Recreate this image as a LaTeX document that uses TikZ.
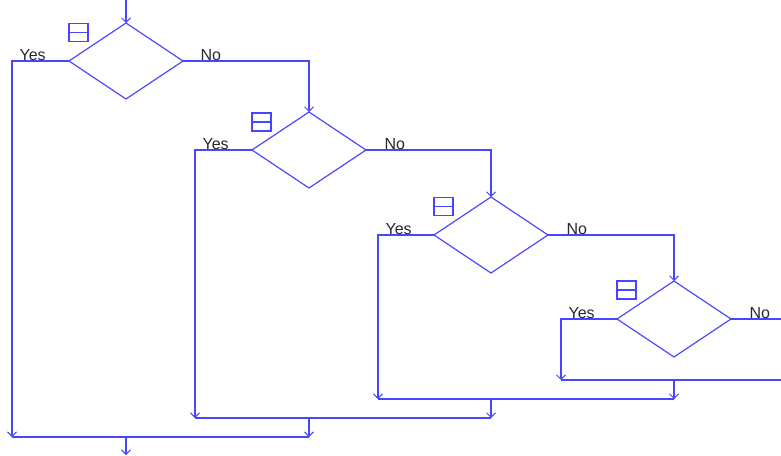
\documentclass[tikz,border=0pt]{standalone}
\usepackage{fontspec}
\setmainfont{Liberation Sans}
\usetikzlibrary{shapes.geometric,arrows.meta}
\definecolor{flowblue}{RGB}{70,70,255}
\definecolor{labelgray}{RGB}{40,40,40}
\begin{document}
\begin{tikzpicture}[x=1pt,y=-1pt,
  line width=1.2pt,
  conn/.style={draw=flowblue},
  arr/.style={conn,-{Straight Barb[length=4.5pt,width=9pt,line width=1pt]}},
  decision/.style={diamond,draw=flowblue,aspect=1.5,minimum width=114pt,minimum height=76pt,inner sep=0pt,outer sep=0pt},
  iconbox/.style={rectangle,draw=flowblue,minimum width=19pt,minimum height=18pt,inner sep=0pt,outer sep=0pt,
    path picture={\draw[flowblue,line width=1.2pt] (path picture bounding box.west) -- (path picture bounding box.east);}},
  lbl/.style={anchor=base west,inner sep=0pt,text=labelgray,font=\fontsize{16}{19}\selectfont}]
\useasboundingbox (0,0) rectangle (781,455);

% decisions
\node[decision] (d1) at (126,61) {};
\node[decision] (d2) at (309,150) {};
\node[decision] (d3) at (491,235) {};
\node[decision] (d4) at (674,319) {};

% icons
\node[iconbox] (b1) at (78.5,32.5) {};
\node[iconbox] (b2) at (261.5,122) {};
\node[iconbox] (b3) at (443.5,206.5) {};
\node[iconbox] (b4) at (626.5,290) {};

% coordinates
\coordinate (top) at (126,0);
\coordinate (c1) at (12,61);
\coordinate (c2) at (195,150);
\coordinate (c3) at (378,235);
\coordinate (c4) at (561,319);
\coordinate (m4L) at (561,380);
\coordinate (m4R) at (781,380);
\coordinate (m4M) at (674,380);
\coordinate (out4) at (781,319);
\coordinate (m3L) at (378,399);
\coordinate (m3R) at (674,399);
\coordinate (m3M) at (491,399);
\coordinate (m2L) at (195,418);
\coordinate (m2R) at (491,418);
\coordinate (m2M) at (309,418);
\coordinate (m1L) at (12,437);
\coordinate (m1R) at (309,437);
\coordinate (m1M) at (126,437);
\coordinate (bottom) at (126,455);

% labels
\node[lbl] (y1) at (19,60) {Yes};
\node[lbl] (n1) at (200,60) {No};
\node[lbl] (y2) at (202,149) {Yes};
\node[lbl] (n2) at (384,149) {No};
\node[lbl] (y3) at (385,234) {Yes};
\node[lbl] (n3) at (566,234) {No};
\node[lbl] (y4) at (568,318) {Yes};
\node[lbl] (n4) at (749,318) {No};

% connectors
\draw[arr] (top) -- (d1.north);
\draw[arr] (d1.west) -- (c1) -- (m1L);
\draw[arr] (d1.east) -| (d2.north);
\draw[arr] (d2.west) -- (c2) -- (m2L);
\draw[arr] (d2.east) -| (d3.north);
\draw[arr] (d3.west) -- (c3) -- (m3L);
\draw[arr] (d3.east) -| (d4.north);
\draw[arr] (d4.west) -- (c4) -- (m4L);
\draw[conn] (d4.east) -- (out4);

\draw[conn] (m4L) -- (m4R);
\draw[arr] (m4M) -- (m3R);
\draw[conn] (m3L) -- (m3R);
\draw[arr] (m3M) -- (m2R);
\draw[conn] (m2L) -- (m2R);
\draw[arr] (m2M) -- (m1R);
\draw[conn] (m1L) -- (m1R);
\draw[arr] (m1M) -- (bottom);
\end{tikzpicture}
\end{document}
